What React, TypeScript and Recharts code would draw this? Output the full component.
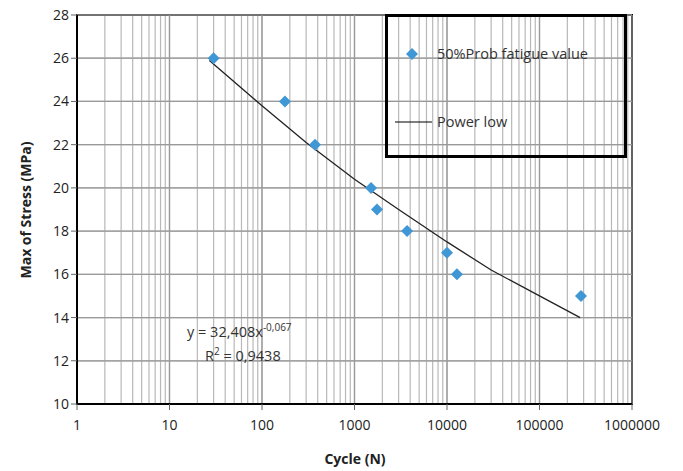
import { ComposedChart, Scatter, XAxis, YAxis, CartesianGrid, ReferenceLine, ReferenceArea } from "recharts";

const probPoints = [
  { x: 30, y: 26 },
  { x: 177, y: 24 },
  { x: 374, y: 22 },
  { x: 1510, y: 20 },
  { x: 1750, y: 19 },
  { x: 3700, y: 18 },
  { x: 10000, y: 17 },
  { x: 12800, y: 16 },
  { x: 281000, y: 15 },
];

const powerLow = [
  { x: 27, y: 25.9 },
  { x: 100, y: 23.8 },
  { x: 300, y: 22.1 },
  { x: 1000, y: 20.4 },
  { x: 3000, y: 19.0 },
  { x: 10000, y: 17.5 },
  { x: 30000, y: 16.2 },
  { x: 100000, y: 15.0 },
  { x: 275000, y: 14.0 },
];

const decades = [1, 10, 100, 1000, 10000, 100000, 1000000];
const xTicks = [
  1, 2, 3, 4, 5, 6, 7, 8, 9,
  10, 20, 30, 40, 50, 60, 70, 80, 90,
  100, 200, 300, 400, 500, 600, 700, 800, 900,
  1000, 2000, 3000, 4000, 5000, 6000, 7000, 8000, 9000,
  10000, 20000, 30000, 40000, 50000, 60000, 70000, 80000, 90000,
  100000, 200000, 300000, 400000, 500000, 600000, 700000, 800000, 900000,
  1000000,
];
const yTicks = [10, 12, 14, 16, 18, 20, 22, 24, 26, 28];

const font = "'Open Sans', 'Liberation Sans', sans-serif";

const Diamond = (props: any) => {
  const { cx, cy } = props;
  if (cx == null || cy == null) return <g />;
  const r = 6;
  return <polygon points={`${cx},${cy - r} ${cx + r},${cy} ${cx},${cy + r} ${cx - r},${cy}`} fill="#3f97d6" />;
};

const NoDot = () => <g />;

const XTick = (props: any) => {
  const { x, y, payload } = props;
  if (!decades.includes(payload.value)) return <g />;
  return (
    <g>
      <line x1={x} y1={y - 8} x2={x} y2={y - 2} stroke="#666" />
      <text x={x} y={y + 18} textAnchor="middle" fontSize={14} fill="#222" fontFamily={font}>
        {payload.value}
      </text>
    </g>
  );
};

export default function App() {
  return (
    <div style={{ position: "absolute", left: 0, top: 0, width: 683, height: 471, background: "#fff" }}>
      <ComposedChart width={683} height={471} margin={{ top: 15, right: 51, bottom: 37, left: 0 }}>
        <CartesianGrid stroke="#b8b8b8" strokeWidth={1.2} />
        <XAxis
          dataKey="x"
          type="number"
          scale="log"
          domain={[1, 1000000]}
          ticks={xTicks}
          interval={0}
          allowDataOverflow
          height={30}
          tickLine={false}
          tick={<XTick />}
          axisLine={{ stroke: "#000", strokeWidth: 2 }}
        />
        <YAxis
          dataKey="y"
          type="number"
          domain={[10, 28]}
          ticks={yTicks}
          interval={0}
          width={77}
          tickSize={6}
          tickLine={{ stroke: "#666" }}
          tick={{ fontSize: 14, fill: "#222", fontFamily: font }}
          axisLine={{ stroke: "#000", strokeWidth: 2 }}
        />
        {decades.map((d) => (
          <ReferenceLine key={d} x={d} stroke="#999" strokeWidth={1.3} />
        ))}
        {yTicks.map((t) => (
          <ReferenceLine key={"h" + t} y={t} stroke="#999" strokeWidth={1.3} />
        ))}
        <ReferenceArea x1={1} x2={1000000} y1={10} y2={28} fill="none" stroke="#000" strokeWidth={2} />
        <Scatter
          name="Power low"
          data={powerLow}
          line={{ stroke: "#222", strokeWidth: 1.3 }}
          lineType="joint"
          shape={<NoDot />}
          isAnimationActive={false}
        />
        <Scatter name="50%Prob fatigue value" data={probPoints} shape={<Diamond />} isAnimationActive={false} />
      </ComposedChart>
      <div style={{ position: "absolute", left: 385, top: 14, width: 236, height: 138, border: "3px solid #000" }}>
        <svg width={236} height={138} style={{ position: "absolute", left: 0, top: 0 }}>
          <polygon points="24,31 30,37 24,43 18,37" fill="#3f97d6" />
          <text x={49} y={42} fontSize={14.5} fill="#333" fontFamily={font}>50%Prob fatigue value</text>
          <line x1={7} y1={105} x2={44} y2={105} stroke="#000" strokeWidth={1.2} />
          <text x={49} y={110} fontSize={14.5} fill="#333" fontFamily={font}>Power low</text>
        </svg>
      </div>
      <div style={{ position: "absolute", left: 187, top: 320, fontFamily: font, fontSize: 14.5, color: "#333", whiteSpace: "nowrap" }}>
        y = 32,408x<sup style={{ fontSize: 10 }}>-0,067</sup>
      </div>
      <div style={{ position: "absolute", left: 205, top: 344, fontFamily: font, fontSize: 14.5, color: "#333", whiteSpace: "nowrap" }}>
        R<sup style={{ fontSize: 10 }}>2</sup> = 0,9438
      </div>
      <div style={{ position: "absolute", left: 0, top: 449, width: 710, textAlign: "center", fontFamily: font, fontSize: 14, fontWeight: "bold", color: "#222" }}>
        Cycle (N)
      </div>
      <div
        style={{
          position: "absolute",
          left: 25,
          top: 210,
          transform: "translate(-50%, -50%) rotate(-90deg)",
          whiteSpace: "nowrap",
          fontFamily: font,
          fontSize: 14,
          fontWeight: "bold",
          color: "#222",
        }}
      >
        Max of Stress (MPa)
      </div>
    </div>
  );
}
